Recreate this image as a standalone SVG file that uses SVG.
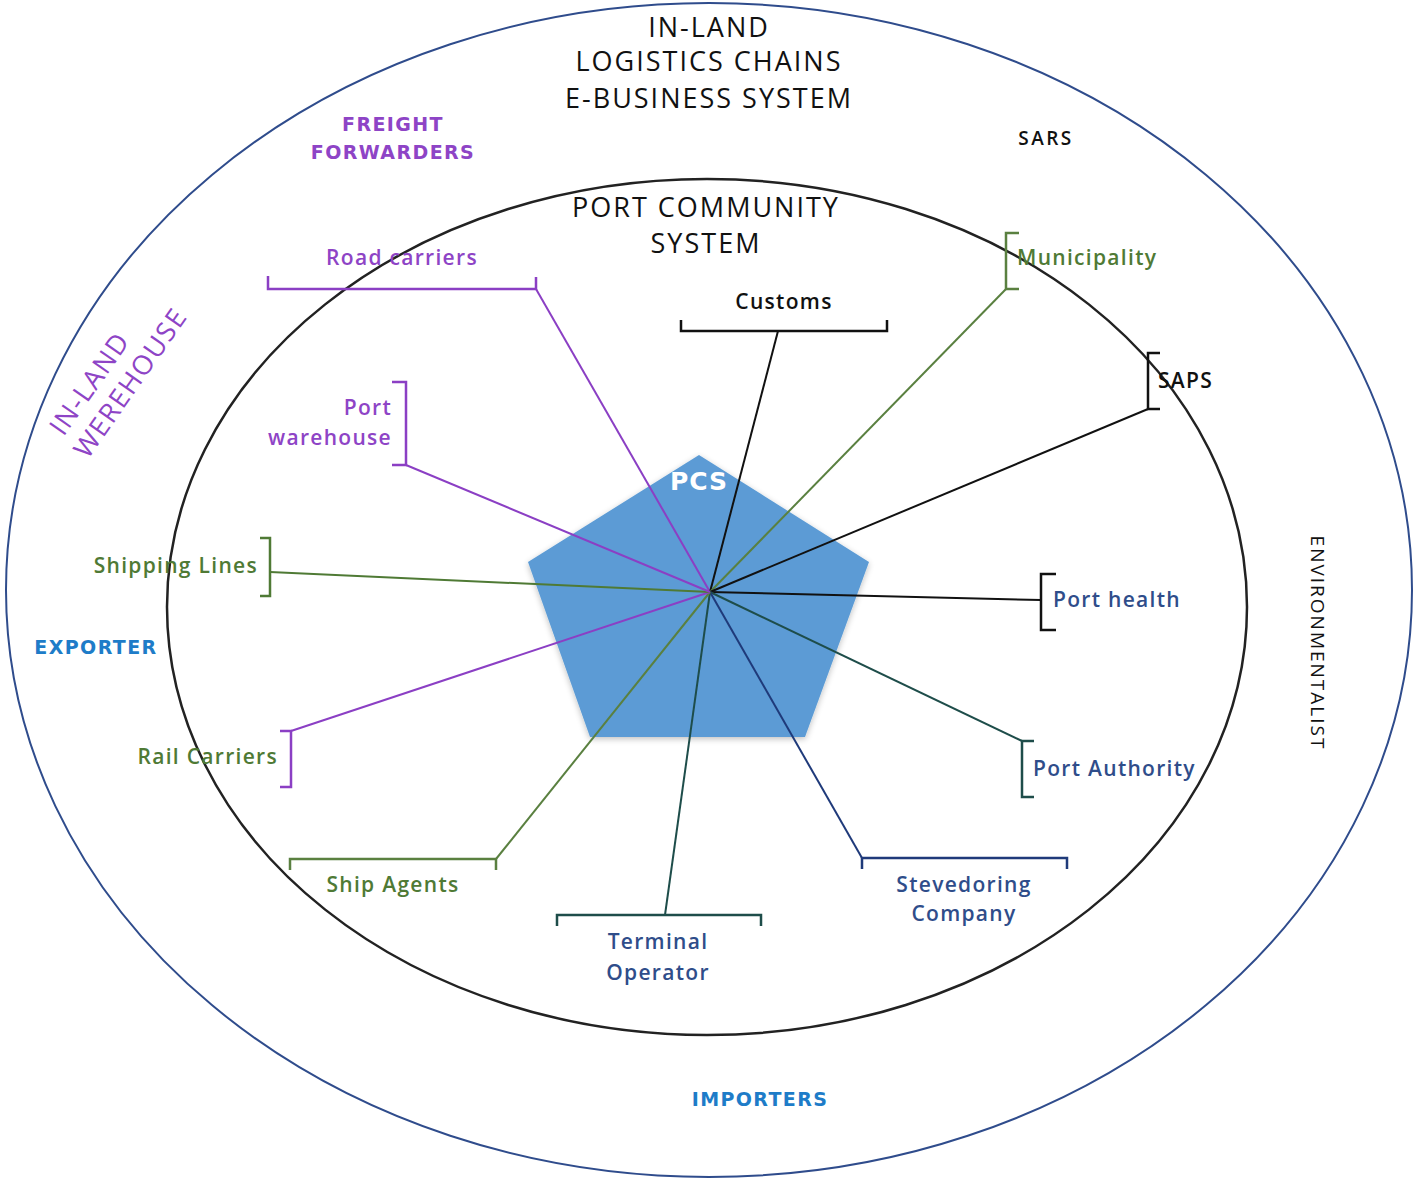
<svg xmlns="http://www.w3.org/2000/svg" width="1416" height="1183" viewBox="0 0 1416 1183">
<defs>
<style>
.t{font-family:"Open Sans","Liberation Sans",sans-serif;font-size:21px;font-weight:600;letter-spacing:1.3px}
.h{font-family:"Open Sans","Liberation Sans",sans-serif;font-size:27px;fill:#111;letter-spacing:2px}
.b{font-family:"DejaVu Sans","Liberation Sans",sans-serif;font-size:19px;font-weight:700;letter-spacing:1.4px}
.pu{fill:#8E44C6}.gr{fill:#4F7A35}.bl{fill:#2F4D8A}.bk{fill:#111}.sky{fill:#1E7CC8}
.br{fill:none;stroke-width:2.5}
.ln{fill:none;stroke-width:2}
</style>
<filter id="sh" x="-10%" y="-10%" width="120%" height="120%"><feGaussianBlur in="SourceAlpha" stdDeviation="3"/><feOffset dx="0" dy="2"/><feComponentTransfer><feFuncA type="linear" slope="0.25"/></feComponentTransfer><feMerge><feMergeNode/><feMergeNode in="SourceGraphic"/></feMerge></filter>
</defs>
<rect width="1416" height="1183" fill="#fff"/>
<g id="outer">
<ellipse cx="709" cy="590" rx="703" ry="587" fill="none" stroke="#2F4C8C" stroke-width="2"/>
<text class="h" text-anchor="middle" x="709" y="37">IN-LAND</text>
<text class="h" text-anchor="middle" x="709" y="71">LOGISTICS CHAINS</text>
<text class="h" text-anchor="middle" x="709" y="108">E-BUSINESS SYSTEM</text>
</g>
<g id="inner">
<ellipse cx="707" cy="607" rx="540" ry="428" fill="none" stroke="#222" stroke-width="2.5"/>
<text class="h" text-anchor="middle" x="706" y="217">PORT COMMUNITY</text>
<text class="h" text-anchor="middle" x="706" y="253">SYSTEM</text>
</g>
<g id="freight-forwarders"><text class="b pu" text-anchor="middle" x="393" y="131">FREIGHT</text><text class="b pu" text-anchor="middle" x="393" y="159">FORWARDERS</text></g>
<g id="sars"><text class="t bk" style="font-size:19px;letter-spacing:2.5px" text-anchor="middle" x="1046" y="145">SARS</text></g>
<g id="inland-warehouse" transform="translate(114,386) rotate(-55)"><text class="h" style="fill:#8E44C6;letter-spacing:1.5px" text-anchor="middle" x="-12" y="-12">IN-LAND</text><text class="h" style="fill:#8E44C6;letter-spacing:1.5px" text-anchor="middle" x="12" y="21">WEREHOUSE</text></g>
<g id="exporter"><text class="b sky" text-anchor="middle" x="96" y="654">EXPORTER</text></g>
<g id="importers"><text class="b sky" text-anchor="middle" x="760" y="1106">IMPORTERS</text></g>
<g id="environmentalist" transform="translate(1318,643) rotate(90)"><text class="h" style="font-size:19px;letter-spacing:2px" text-anchor="middle" x="0" y="7">ENVIRONMENTALIST</text></g>
<g id="pcs">
<polygon points="699,455 869,562 805,737 590,737 528,562" fill="#5B9BD5" filter="url(#sh)"/>
<text class="b" style="font-size:25px;fill:#fff;letter-spacing:1px" text-anchor="middle" x="699" y="490">PCS</text>
</g>
<g id="connectors">
<line class="ln" stroke="#8B3FC4" x1="536" y1="289" x2="710" y2="592"/>
<line class="ln" stroke="#111" x1="778" y1="331" x2="710" y2="592"/>
<line class="ln" stroke="#5A8040" x1="1006" y1="289" x2="710" y2="592"/>
<line class="ln" stroke="#111" x1="1148" y1="409" x2="710" y2="592"/>
<line class="ln" stroke="#111" x1="1041" y1="600" x2="710" y2="592"/>
<line class="ln" stroke="#1E4D4A" x1="1022" y1="741" x2="710" y2="592"/>
<line class="ln" stroke="#1F3A7A" x1="862" y1="858" x2="710" y2="592"/>
<line class="ln" stroke="#1E4D4A" x1="665" y1="915" x2="710" y2="592"/>
<line class="ln" stroke="#5A8040" x1="496" y1="859" x2="710" y2="592"/>
<line class="ln" stroke="#8B3FC4" x1="291" y1="731" x2="710" y2="592"/>
<line class="ln" stroke="#4F7A35" x1="270" y1="572" x2="710" y2="592"/>
<line class="ln" stroke="#8B3FC4" x1="406" y1="465" x2="710" y2="592"/>
</g>
<g id="road-carriers"><path class="br" stroke="#8B3FC4" d="M268,276V289H536V277"/><text class="t pu" text-anchor="middle" x="402" y="265">Road carriers</text></g>
<g id="customs"><path class="br" stroke="#111" d="M681,320V331H887V320"/><text class="t bk" text-anchor="middle" x="784" y="309">Customs</text></g>
<g id="municipality"><path class="br" stroke="#5A8040" d="M1019,233H1006V289H1019"/><text class="t gr" x="1017" y="265">Municipality</text></g>
<g id="saps"><path class="br" stroke="#111" d="M1160,353H1148V409H1160"/><text class="t bk" x="1158" y="388">SAPS</text></g>
<g id="port-health"><path class="br" stroke="#111" d="M1056,574H1041V630H1056"/><text class="t bl" x="1053" y="607">Port health</text></g>
<g id="port-authority"><path class="br" stroke="#1E4D4A" d="M1034,741H1022V797H1034"/><text class="t bl" x="1033" y="776">Port Authority</text></g>
<g id="stevedoring"><path class="br" stroke="#1F3A7A" d="M862,869V858H1067V869"/><text class="t bl" text-anchor="middle" x="964" y="892">Stevedoring</text><text class="t bl" text-anchor="middle" x="964" y="921">Company</text></g>
<g id="terminal-operator"><path class="br" stroke="#1E4D4A" d="M557,926V915H761V926"/><text class="t bl" text-anchor="middle" x="658" y="949">Terminal</text><text class="t bl" text-anchor="middle" x="658" y="980">Operator</text></g>
<g id="ship-agents"><path class="br" stroke="#5A8040" d="M290,870V859H496V870"/><text class="t gr" text-anchor="middle" x="393" y="892">Ship Agents</text></g>
<g id="rail-carriers"><path class="br" stroke="#8B3FC4" d="M280,731H291V787H280"/><text class="t gr" text-anchor="end" x="278" y="764">Rail Carriers</text></g>
<g id="shipping-lines"><path class="br" stroke="#4F7A35" d="M260,538H270V596H260"/><text class="t gr" text-anchor="end" x="258" y="573">Shipping Lines</text></g>
<g id="port-warehouse"><path class="br" stroke="#8B3FC4" d="M392,382H406V465H392"/><text class="t pu" text-anchor="end" x="392" y="415">Port</text><text class="t pu" text-anchor="end" x="392" y="445">warehouse</text></g>
</svg>
